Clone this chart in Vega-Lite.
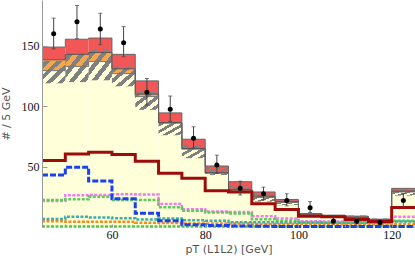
{
  "$schema": "https://vega.github.io/schema/vega-lite/v6.json",
  "width": 373,
  "height": 227,
  "autosize": {"type": "none"},
  "padding": {"left": 42, "top": 0, "right": 0, "bottom": 37},
  "background": "white",
  "config": {
    "view": {"stroke": null},
    "axis": {"grid": false, "labelFont": "Liberation Serif", "labelFontSize": 12, "labelColor": "#111", "titleFont": "DejaVu Sans", "titleFontSize": 11, "titleFontWeight": "normal", "titleColor": "#555", "domainColor": "#999", "tickColor": "#999", "labelOverlap": false}
  },
  "data": {"values": [
    {"x0": 45, "x1": 50, "pt": 47.5, "bg": 129.5, "mid": 138.5, "tot": 149, "hlo": 119, "hhi": 137.5, "sig": 55, "blue": 43, "mag": 21.5, "grn": 22.3, "teal": 6.7, "org": 4.8, "grn2": 0.5, "obs": 160, "olo": 147.5, "ohi": 173},
    {"x0": 50, "x1": 55, "pt": 52.5, "bg": 133, "mid": 143, "tot": 155.5, "hlo": 120, "hhi": 144, "sig": 60.5, "blue": 49.5, "mag": 26.2, "grn": 22.9, "teal": 8.4, "org": 4.3, "grn2": 0.5, "obs": 170, "olo": 156, "ohi": 183.5},
    {"x0": 55, "x1": 60, "pt": 57.5, "bg": 137, "mid": 144.5, "tot": 156.5, "hlo": 121.5, "hhi": 146.5, "sig": 62, "blue": 38, "mag": 26.6, "grn": 25, "teal": 7.9, "org": 4.3, "grn2": 0.5, "obs": 164, "olo": 151, "ohi": 177},
    {"x0": 60, "x1": 65, "pt": 62.5, "bg": 127, "mid": 131, "tot": 143, "hlo": 116.5, "hhi": 133, "sig": 60, "blue": 23.3, "mag": 27.2, "grn": 22.3, "teal": 7.3, "org": 4.3, "grn2": 0.5, "obs": 152.5, "olo": 141, "ohi": 166},
    {"x0": 65, "x1": 70, "pt": 67.5, "bg": 108, "mid": 110, "tot": 121, "hlo": 97, "hhi": 112, "sig": 54.5, "blue": 11.3, "mag": 27, "grn": 22.3, "teal": 6.2, "org": 3.5, "grn2": 0.5, "obs": 111.7, "olo": 101, "ohi": 123},
    {"x0": 70, "x1": 75, "pt": 72.5, "bg": 86, "mid": 86.5, "tot": 94.5, "hlo": 76, "hhi": 87, "sig": 44.5, "blue": 5.2, "mag": 19, "grn": 16.4, "teal": 7, "org": 3.3, "grn2": 0.5, "obs": 97.6, "olo": 87.5, "ohi": 108.5},
    {"x0": 75, "x1": 80, "pt": 77.5, "bg": 64.5, "mid": 65, "tot": 72.7, "hlo": 57, "hhi": 68, "sig": 40.3, "blue": 1.8, "mag": 14.7, "grn": 13.4, "teal": 5.6, "org": 3, "grn2": 0.5, "obs": 73.5, "olo": 65.5, "ohi": 83},
    {"x0": 80, "x1": 85, "pt": 82.5, "bg": 44.5, "mid": 45, "tot": 50.5, "hlo": 43, "hhi": 50, "sig": 30, "blue": 1.2, "mag": 12.8, "grn": 12, "teal": 5.1, "org": 3, "grn2": 0.5, "obs": 51.3, "olo": 44.5, "ohi": 59.5},
    {"x0": 85, "x1": 90, "pt": 87.5, "bg": 30.5, "mid": 31, "tot": 37.5, "hlo": 28.5, "hhi": 34.5, "sig": 29, "blue": 0.8, "mag": 12.5, "grn": 11.2, "teal": 4, "org": 2.8, "grn2": 0.5, "obs": 32, "olo": 26.5, "ohi": 38},
    {"x0": 90, "x1": 95, "pt": 92.5, "bg": 24.5, "mid": 25.5, "tot": 29, "hlo": 21, "hhi": 28, "sig": 19.3, "blue": 0.7, "mag": 9, "grn": 6.5, "teal": 4, "org": 2.5, "grn2": 0.5, "obs": 27.5, "olo": 22.5, "ohi": 33},
    {"x0": 95, "x1": 100, "pt": 97.5, "bg": 20.5, "mid": 21, "tot": 22.8, "hlo": 18, "hhi": 22, "sig": 14.5, "blue": 0.5, "mag": 7, "grn": 5.1, "teal": 3.8, "org": 2.5, "grn2": 0.5, "obs": 22, "olo": 17.5, "ohi": 27.5},
    {"x0": 100, "x1": 105, "pt": 102.5, "bg": 9.5, "mid": 10, "tot": 11.2, "hlo": 8.5, "hhi": 11, "sig": 9, "blue": 0.5, "mag": 4.8, "grn": 3.7, "teal": 3.8, "org": 2.4, "grn2": 0.5, "obs": 16, "olo": 12, "ohi": 21},
    {"x0": 105, "x1": 110, "pt": 107.5, "bg": 8.5, "mid": 9, "tot": 9.8, "hlo": 7.5, "hhi": 10, "sig": 8.4, "blue": 0.4, "mag": 4.5, "grn": 3.6, "teal": 3.6, "org": 2.4, "grn2": 0.5, "obs": 5, "olo": 2.5, "ohi": 8},
    {"x0": 110, "x1": 115, "pt": 112.5, "bg": 7.5, "mid": 8, "tot": 9, "hlo": 6.5, "hhi": 9.5, "sig": 6.2, "blue": 0.4, "mag": 4.3, "grn": 3.5, "teal": 3.5, "org": 2.3, "grn2": 0.5, "obs": 4.8, "olo": 2.5, "ohi": 7},
    {"x0": 115, "x1": 120, "pt": 117.5, "bg": 5.5, "mid": 6, "tot": 6.5, "hlo": 4.5, "hhi": 7, "sig": 4.5, "blue": 0.4, "mag": 4.2, "grn": 3.4, "teal": 3.4, "org": 2.3, "grn2": 0.5, "obs": 3.8, "olo": 1.5, "ohi": 6},
    {"x0": 120, "x1": 125, "pt": 122.5, "bg": 29, "mid": 29.7, "tot": 32, "hlo": 26, "hhi": 32, "sig": 16.2, "blue": 0.5, "mag": 8.4, "grn": 5.1, "teal": 4.5, "org": 2.6, "grn2": 0.5, "obs": 22, "olo": 16.5, "ohi": 27.5}
  ]},
  "layer": [
    {
      "mark": {"type": "rect", "fill": "#FFFFDA"},
      "encoding": {
        "x": {"field": "x0", "type": "quantitative", "scale": {"domain": [45, 125], "nice": false}, "axis": {"values": [50, 55, 60, 65, 70, 75, 80, 85, 90, 95, 100, 105, 110, 115, 120, 125], "labelExpr": "datum.value % 20 === 0 ? datum.label : ''", "labelOverlap": false, "tickSize": -3, "labelPadding": 5, "title": "pT (L1L2)  [GeV]", "titlePadding": 3, "domain": false, "zindex": 1}},
        "x2": {"field": "x1"},
        "y": {"field": "bg", "type": "quantitative", "scale": {"domain": [0, 188], "nice": false}, "axis": {"values": [50, 100, 150], "labelOverlap": false, "tickSize": -5, "labelPadding": 8, "title": "# / 5 GeV", "titleX": -31, "zindex": 1}},
        "y2": {"datum": 0}
      }
    },
    {
      "mark": {"type": "rect", "fill": "#F4A64F"},
      "encoding": {
        "x": {"field": "x0", "type": "quantitative"},
        "x2": {"field": "x1"},
        "y": {"field": "mid", "type": "quantitative"},
        "y2": {"field": "bg"}
      }
    },
    {
      "mark": {"type": "rect", "fill": "#F25757"},
      "encoding": {
        "x": {"field": "x0", "type": "quantitative"},
        "x2": {"field": "x1"},
        "y": {"field": "tot", "type": "quantitative"},
        "y2": {"field": "mid"}
      }
    },
    {
      "mark": {"type": "rect", "fill": {"gradient": "linear", "x1": 0, "y1": 0, "x2": 1, "y2": 1, "stops": [
        {"offset": 0, "color": "rgba(128,128,128,0)"},
        {"offset": 0.065, "color": "rgba(128,128,128,0)"},
        {"offset": 0.065, "color": "#808080"},
        {"offset": 0.185, "color": "#808080"},
        {"offset": 0.185, "color": "rgba(128,128,128,0)"},
        {"offset": 0.315, "color": "rgba(128,128,128,0)"},
        {"offset": 0.315, "color": "#808080"},
        {"offset": 0.435, "color": "#808080"},
        {"offset": 0.435, "color": "rgba(128,128,128,0)"},
        {"offset": 0.565, "color": "rgba(128,128,128,0)"},
        {"offset": 0.565, "color": "#808080"},
        {"offset": 0.685, "color": "#808080"},
        {"offset": 0.685, "color": "rgba(128,128,128,0)"},
        {"offset": 0.815, "color": "rgba(128,128,128,0)"},
        {"offset": 0.815, "color": "#808080"},
        {"offset": 0.935, "color": "#808080"},
        {"offset": 0.935, "color": "rgba(128,128,128,0)"},
        {"offset": 1, "color": "rgba(128,128,128,0)"}
      ]}},
      "encoding": {
        "x": {"field": "x0", "type": "quantitative"},
        "x2": {"field": "x1"},
        "y": {"field": "hhi", "type": "quantitative"},
        "y2": {"field": "hlo"}
      }
    },
    {
      "transform": [{"fold": ["x0", "x1"], "as": ["edge", "ex"]}],
      "encoding": {
        "x": {"field": "ex", "type": "quantitative"},
        "order": [{"field": "ex", "type": "quantitative"}, {"field": "edge", "sort": "descending"}]
      },
      "layer": [
        {"mark": {"type": "line", "stroke": "#777", "strokeWidth": 1}, "encoding": {"y": {"field": "bg", "type": "quantitative"}}},
        {"mark": {"type": "line", "stroke": "#555", "strokeWidth": 1}, "encoding": {"y": {"field": "mid", "type": "quantitative"}}},
        {"mark": {"type": "line", "stroke": "#666", "strokeWidth": 1}, "encoding": {"y": {"field": "tot", "type": "quantitative"}}},
        {"mark": {"type": "line", "stroke": "#F07AF0", "strokeWidth": 2.5, "strokeDash": [3, 1.5]}, "encoding": {"y": {"field": "mag", "type": "quantitative"}}},
        {"mark": {"type": "line", "stroke": "#5CCB5C", "strokeWidth": 2.5, "strokeDash": [3, 1.5]}, "encoding": {"y": {"field": "grn", "type": "quantitative"}}},
        {"mark": {"type": "line", "stroke": "#F58A1F", "strokeWidth": 2.5, "strokeDash": [3, 1.5]}, "encoding": {"y": {"field": "org", "type": "quantitative"}}},
        {"mark": {"type": "line", "stroke": "#3BAFA8", "strokeWidth": 2.5, "strokeDash": [3, 1.5]}, "encoding": {"y": {"field": "teal", "type": "quantitative"}}},
        {"mark": {"type": "line", "stroke": "#4CC74C", "strokeWidth": 2.5, "strokeDash": [3, 1.5]}, "encoding": {"y": {"field": "grn2", "type": "quantitative"}}},
        {"mark": {"type": "line", "stroke": "#1A40F0", "strokeWidth": 3, "strokeDash": [6, 2]}, "encoding": {"y": {"field": "blue", "type": "quantitative"}}},
        {"mark": {"type": "line", "stroke": "#9E0B0B", "strokeWidth": 3}, "encoding": {"y": {"field": "sig", "type": "quantitative"}}}
      ]
    },
    {
      "mark": {"type": "rule", "stroke": "#444", "strokeWidth": 1},
      "encoding": {
        "x": {"field": "pt", "type": "quantitative"},
        "y": {"field": "olo", "type": "quantitative"},
        "y2": {"field": "ohi"}
      }
    },
    {
      "mark": {"type": "tick", "orient": "horizontal", "size": 4, "thickness": 1, "color": "#444"},
      "encoding": {
        "x": {"field": "pt", "type": "quantitative"},
        "y": {"field": "ohi", "type": "quantitative"}
      }
    },
    {
      "mark": {"type": "tick", "orient": "horizontal", "size": 4, "thickness": 1, "color": "#444"},
      "encoding": {
        "x": {"field": "pt", "type": "quantitative"},
        "y": {"field": "olo", "type": "quantitative"}
      }
    },
    {
      "mark": {"type": "circle", "size": 25, "color": "black", "opacity": 1},
      "encoding": {
        "x": {"field": "pt", "type": "quantitative"},
        "y": {"field": "obs", "type": "quantitative"}
      }
    }
  ]
}
